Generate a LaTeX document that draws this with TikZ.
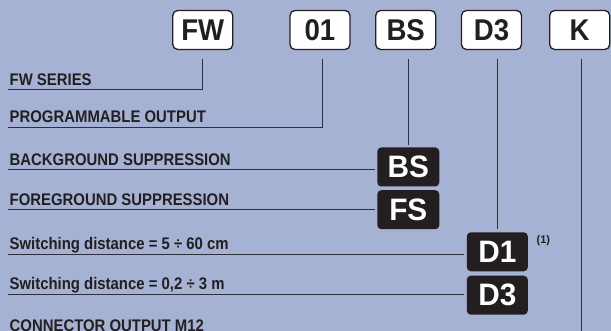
\documentclass[tikz,border=0pt]{standalone}
\usepackage{fontspec}
\setmainfont{Liberation Sans}
\newfontfamily\labelfont{Liberation Sans}[FakeStretch=0.887]
\newfontfamily\codefont{Liberation Sans}[FakeStretch=0.92]
\newfontfamily\optfont{Liberation Sans}[FakeStretch=0.96]
\usetikzlibrary{positioning, calc}

\definecolor{bgblue}{RGB}{165,178,212}
\definecolor{inkdark}{RGB}{35,31,32}
\definecolor{leadgray}{RGB}{48,48,58}

\begin{document}
\begin{tikzpicture}[
  x=1pt, y=-1pt,
  font=\bfseries,
  codebox/.style={rectangle, rounded corners=5pt, draw=inkdark, line width=1.3pt, fill=white, minimum width=60pt, minimum height=39pt, inner sep=0pt, text=inkdark, font=\codefont\fontsize{30}{30}\selectfont\bfseries},
  optbox/.style={rectangle, rounded corners=4pt, fill=inkdark, minimum width=62pt, minimum height=39pt, inner sep=0pt, text=white, font=\optfont\fontsize{31}{31}\selectfont\bfseries},
  lead/.style={draw=leadgray, line width=0.9pt},
  labeltext/.style={anchor=base west, inner sep=0pt, text=inkdark, font=\labelfont\fontsize{16.8}{18}\selectfont\bfseries},
  notetext/.style={inner sep=0pt, text=inkdark, font=\fontsize{11}{11}\selectfont\bfseries}
]

\path[use as bounding box] (0,0) rectangle (611,331);
\clip (0,0) rectangle (611,331);
\fill[bgblue] (0,0) rectangle (611,331);

% code row
\node[codebox] (cFW) at (202.8,30) {FW};
\node[codebox] (c01) at (320,30) {01};
\node[codebox] (cBS) at (405.7,30) {BS};
\node[codebox] (cD3) at (491.5,30) {D3};
\node[codebox] (cK) at (579.7,30) {K};

% options
\node[optbox] (sBS) at (408.3,167) {BS};
\node[optbox, below=3.3pt of sBS] (sFS) {FS};
\node[optbox, minimum width=61pt] (sD1) at (497.3,251.8) {D1};
\node[optbox, minimum width=61pt, below=4pt of sD1] (sD3) {D3};
\node[notetext, anchor=north west] (note1) at ([xshift=8.5pt,yshift=-3.5pt]sD1.north east) {(1)};

% labels
\node[labeltext] (lFW) at (9.5,85.3) {FW SERIES};
\node[labeltext] (lOut) at (9.5,123) {PROGRAMMABLE OUTPUT};
\node[labeltext] (lBS) at (9.5,165.3) {BACKGROUND SUPPRESSION};
\node[labeltext] (lFS) at (9.5,205.3) {FOREGROUND SUPPRESSION};
\node[labeltext] (lD1) at (9.5,250) {Switching distance = 5 ÷ 60 cm};
\node[labeltext] (lD3) at (9.5,290) {Switching distance = 0,2 ÷ 3 m};
\node[labeltext] (lK) at (9.5,332) {CONNECTOR OUTPUT M12};

\coordinate (kEnd) at (581.7,345);

% leader lines
\draw[lead] ([yshift=-8.5pt]cFW.south) |- ([xshift=-1.5pt,yshift=-4pt]lFW.base west);
\draw[lead] ([xshift=2.7pt,yshift=-8.5pt]c01.south) |- ([xshift=-1.5pt,yshift=-4pt]lOut.base west);
\draw[lead, shorten >=2pt] ([yshift=-8.5pt]cBS.south -| sBS.north) -- (sBS.north);
\draw[lead, shorten >=3pt] ([yshift=-8.5pt]cD3.south -| sD1.north) -- (sD1.north);
\draw[lead] ([yshift=-8.5pt]cK.south -| kEnd) -- (kEnd);

\draw[lead] ([xshift=-1.5pt,yshift=-4pt]lBS.base west) coordinate (uBS) -- ([xshift=-2.5pt]uBS -| sBS.west);
\draw[lead] ([xshift=-1.5pt,yshift=-4pt]lFS.base west) coordinate (uFS) -- ([xshift=-2.5pt]uFS -| sFS.west);
\draw[lead] ([xshift=-1.5pt,yshift=-4pt]lD1.base west) coordinate (uD1) -- ([xshift=-2.5pt]uD1 -| sD1.west);
\draw[lead] ([xshift=-1.5pt,yshift=-4pt]lD3.base west) coordinate (uD3) -- ([xshift=-2.5pt]uD3 -| sD3.west);

\end{tikzpicture}
\end{document}
